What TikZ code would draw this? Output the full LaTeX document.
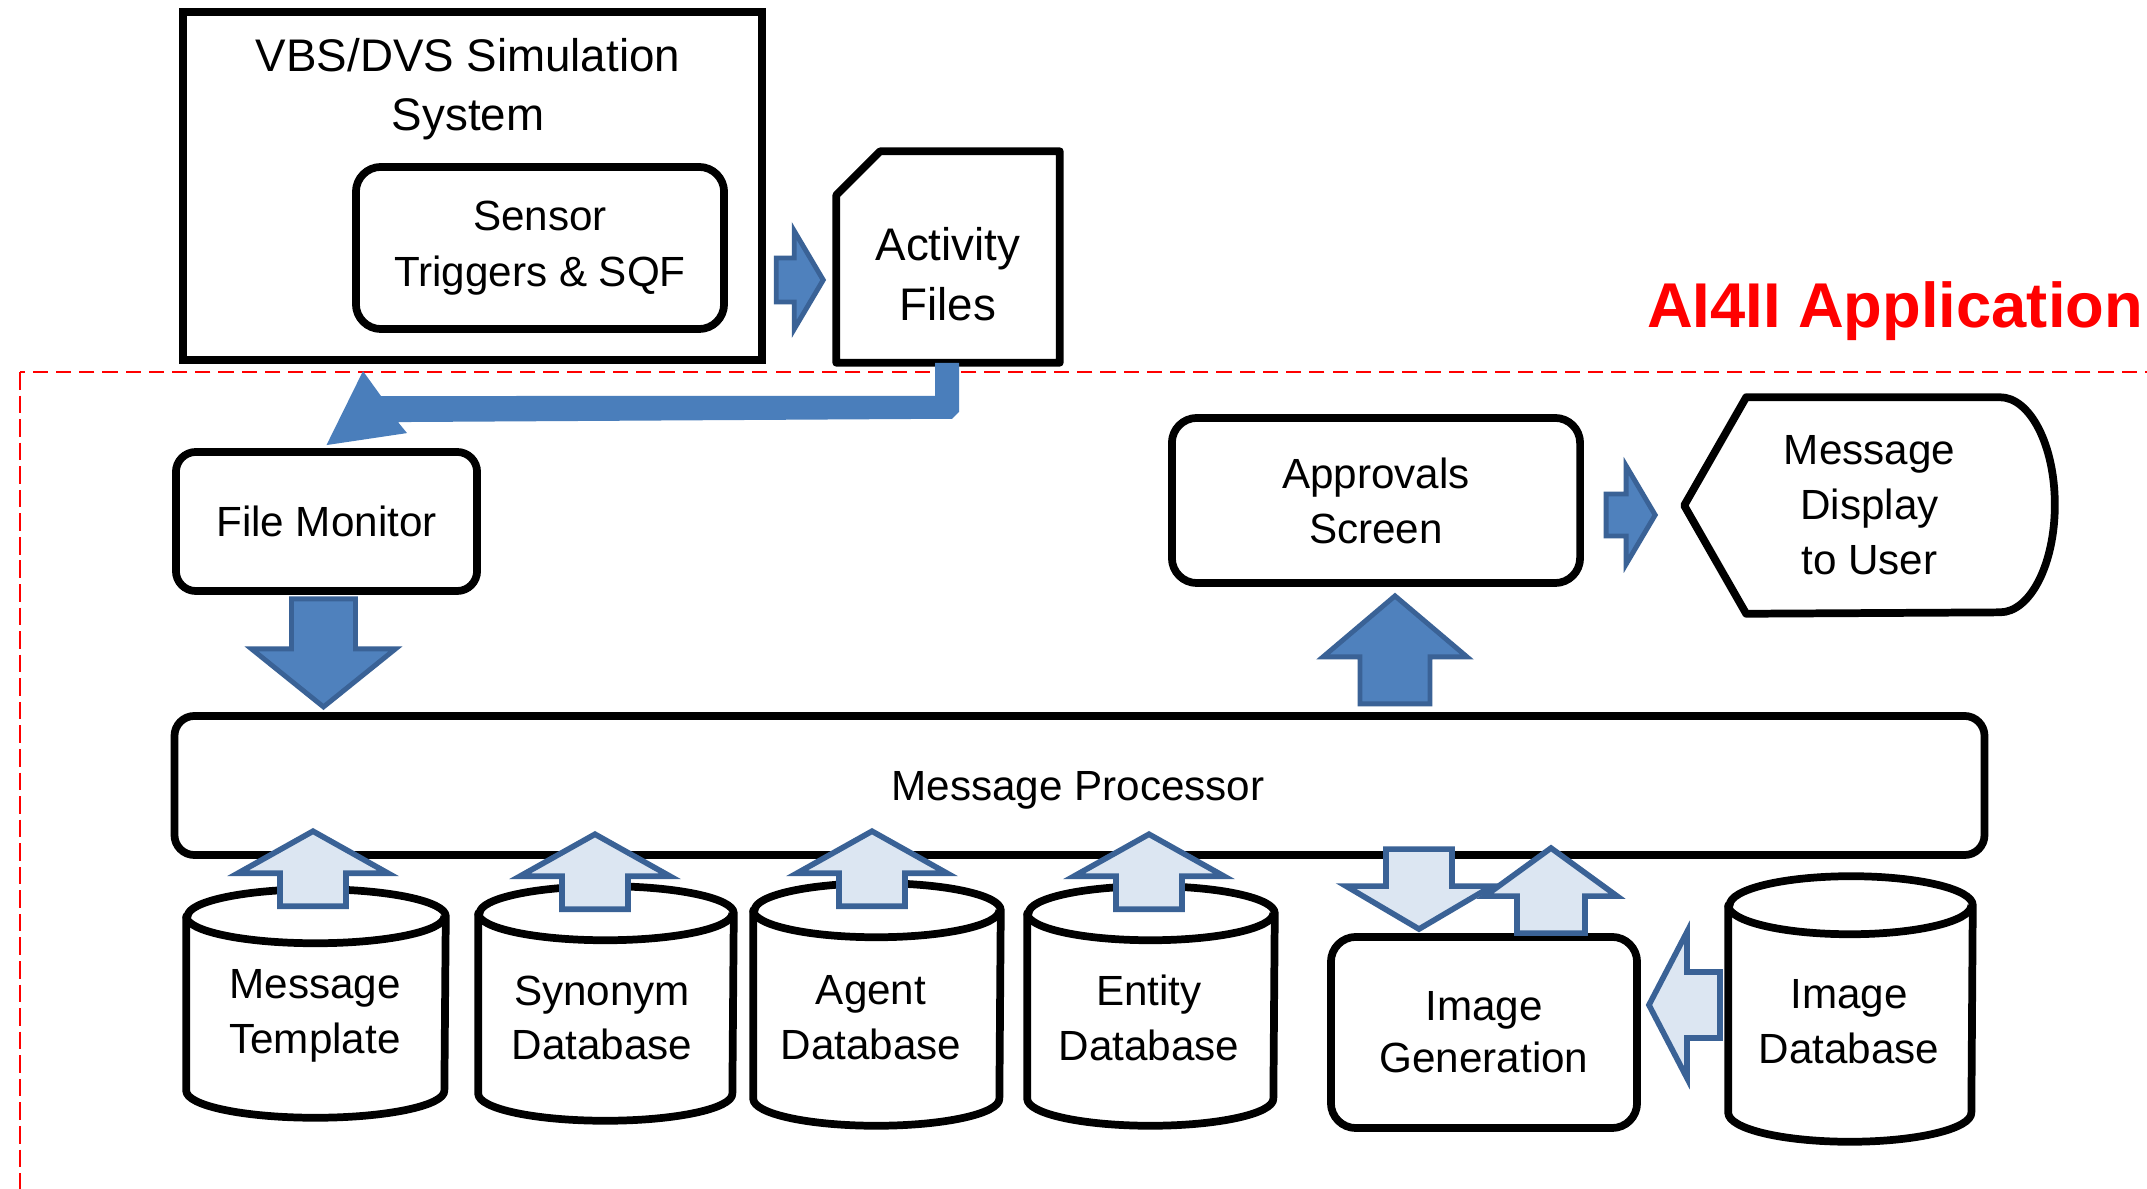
\documentclass[tikz,border=0pt]{standalone}
\usepackage{fontspec}
\setmainfont{Liberation Sans}
\usetikzlibrary{calc}
\definecolor{arrowblue}{HTML}{4F81BD}
\definecolor{arrowedge}{HTML}{3A6296}
\definecolor{arrowlight}{HTML}{DCE6F2}
\definecolor{bendblue}{HTML}{4A7EBB}

\begin{document}
\begin{tikzpicture}[x=0.01cm, y=-0.01cm,
  every node/.style={font=\fontsize{12}{15.6}\selectfont, align=center, inner sep=0pt},
  box/.style={draw, line width=2.2pt},
  rbox/.style={box, rounded corners=0.25cm},
  outline/.style={line width=2.2pt, line join=round},
  darkarrow/.style={fill=arrowblue, draw=arrowedge, line width=1.4pt, line join=miter},
  lightarrow/.style={fill=arrowlight, draw=arrowedge, line width=1.6pt, line join=miter},
  pics/blockarrow/.style args={#1/#2/#3/#4/#5}{code={
    \path[#5] (0,0) -- (-#2,#3) -- (-#2,#4) -- (-#1,#4) -- (-#1,-#4)
      -- (-#2,-#4) -- (-#2,-#3) -- cycle;}},
]
\fill[white] (0,0) rectangle (2147,1189);
\useasboundingbox (0,0) rectangle (2147,1189);

% application boundary
\draw[red, line width=0.8pt, dash pattern=on 4.3pt off 2.3pt] (2160,372) -- (20,372);
\draw[red, line width=0.8pt, dash pattern=on 5pt off 1.7pt] (20,372) -- (20,1200);
\node[font=\bfseries\fontsize{18}{20}\selectfont, text=red, anchor=base] (apptitle) at (1895,328) {AI4II Application};

% simulation system
\node[box, minimum width=5.79cm, minimum height=3.48cm] (vbs) at (472.5,186) {};
\node[font=\fontsize{13}{16.8}\selectfont] (vbstitle) at (468,89) {VBS/DVS Simulation\\System};
\node[rbox, font=\fontsize{12}{16}\selectfont, minimum width=3.68cm, minimum height=1.62cm] (sensor) at (540,248) {Sensor\\Triggers \& SQF};

% activity files (cut-corner card)
\node[minimum width=2.22cm, minimum height=2.10cm] (act) at (948,257) {};
\draw[outline] (act.south west) -- ($(act.north west)+(0,44)$) -- ($(act.north west)+(44,0)$)
  -- (act.north east) -- (act.south east) -- cycle;
\node[font=\fontsize{13}{17}\selectfont] (acttext) at (948,274) {Activity\\Files};

% application components
\node[rbox, rounded corners=0.2cm, minimum width=3.01cm, minimum height=1.39cm] (fmon) at (326.5,521.5) {File Monitor};
\node[rbox, rounded corners=0.2cm, minimum width=18.09cm, minimum height=1.39cm] (proc) at (1079.5,785.5) {};
\node (proctext) at (1078,790) {Message Processor};
\node[rbox, minimum width=4.08cm, minimum height=1.65cm] (appr) at (1376,500.5) {Approvals\\Screen};
\node[minimum width=3.69cm, minimum height=2.15cm] (disp) at (1869.5,505.5) {Message\\Display\\to User};
\draw[outline] (disp.west) -- ($(disp.north west)+(62,0)$) -- ($(disp.north east)+(-55,0)$)
  arc[start angle=90, end angle=-90, x radius=0.55cm, y radius=1.075cm]
  -- ($(disp.south west)+(62,0)$) -- cycle;
\node[rbox, font=\fontsize{12}{14.8}\selectfont, minimum width=3.06cm, minimum height=1.91cm] (igen) at (1484,1032.5) {Image\\Generation};

% databases
\node[minimum width=2.58cm, minimum height=2.27cm] (mt) at (316,1003.5) {};
\node (mttext) at (315,1016) {Message\\Template};
\node[minimum width=2.54cm, minimum height=2.33cm] (syn) at (606,1003.5) {};
\node (syntext) at (602,1018) {Synonym\\Database};
\node[minimum width=2.46cm, minimum height=2.41cm] (agt) at (877,1004.5) {};
\node (agttext) at (871,1018) {Agent\\Database};
\node[minimum width=2.46cm, minimum height=2.38cm] (ent) at (1151,1006) {};
\node (enttext) at (1149,1018) {Entity\\Database};
\node[minimum width=2.43cm, minimum height=2.64cm] (imgdb) at (1850.5,1009) {};
\node (imgdbtext) at (1849,1022) {Image\\Database};
\foreach \n/\rx/\ry in {mt/1.29/0.27, syn/1.27/0.27, agt/1.23/0.27, ent/1.23/0.27, imgdb/1.215/0.29} {
  \draw[outline] ([yshift=-\ry cm]\n.north west) -- ([yshift=\ry cm]\n.south west)
    arc[start angle=180, end angle=360, x radius=\rx cm, y radius=\ry cm]
    -- ([yshift=-\ry cm]\n.north east)
    arc[start angle=0, end angle=180, x radius=\rx cm, y radius=\ry cm] -- cycle;
  \draw[outline] ([yshift=-\ry cm]\n.north west)
    arc[start angle=180, end angle=360, x radius=\rx cm, y radius=\ry cm];
}

% bent arrow: activity files to file monitor
\fill[bendblue] ($(act.south)+(-13,0)$) -- ($(act.south)+(11,0)$) -- ($(act.south)+(11,49)$)
  -- ($(act.south)+(4,56)$) -- ($(fmon.north)+(71.5,-26)$) -- ($(fmon.north)+(80.5,-15)$)
  -- ($(fmon.north)+(0,-3)$) -- ($(fmon.north)+(36.5,-77)$) -- ($(fmon.north)+(54.5,-52)$)
  -- ($(act.south)+(-13,33)$) -- cycle;

% block arrows
\pic at ($(act.west)+(-13,23)$) {blockarrow=47/29/49/22/darkarrow};
\pic[rotate=-90] at ($(fmon.south)+(-3,112)$) {blockarrow=108/58/72/32/darkarrow};
\pic[rotate=90] at ($(appr.south)+(19,9)$) {blockarrow=108/61/72/35/darkarrow};
\pic at ($(disp.west)+(-29,9.5)$) {blockarrow=49/29/49/21/darkarrow};

\pic[rotate=90] at ($(mt.north)+(-3,-58)$) {blockarrow=75/42/75/33/lightarrow};
\pic[rotate=90] at ($(syn.north)+(-11,-52)$) {blockarrow=75/42/75/33/lightarrow};
\pic[rotate=90] at ($(agt.north)+(-5,-52)$) {blockarrow=75/42/75/33/lightarrow};
\pic[rotate=90] at ($(ent.north)+(-2,-52)$) {blockarrow=75/42/75/33/lightarrow};
\pic[rotate=-90] at ($(igen.north)+(-65,-4)$) {blockarrow=80/43/73/33/lightarrow};
\pic[rotate=90] at ($(igen.north)+(67,-85)$) {blockarrow=85/48/66/34/lightarrow};
\pic[rotate=180] at ($(igen.east)+(8,-27.5)$) {blockarrow=71/38/73/33/lightarrow};
\end{tikzpicture}
\end{document}
